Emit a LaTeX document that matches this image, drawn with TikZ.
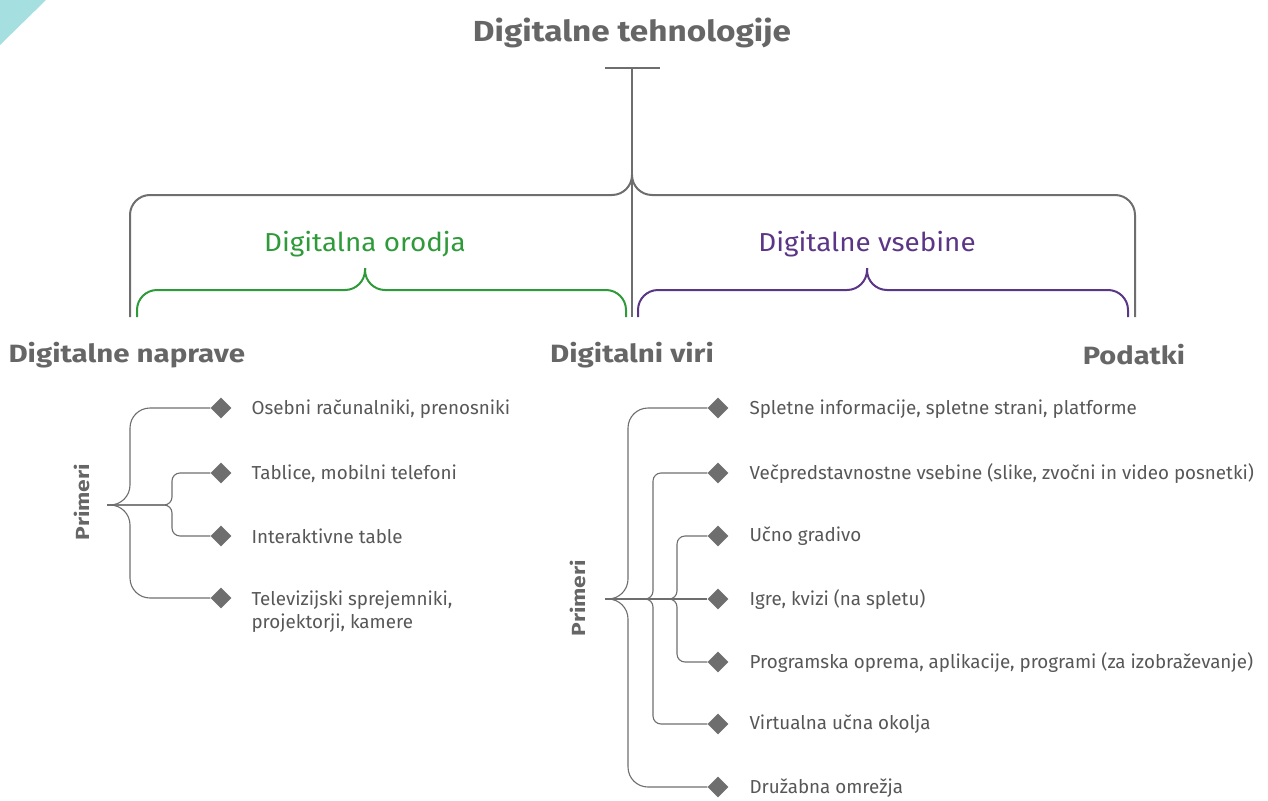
\documentclass[tikz,border=0pt]{standalone}
\usepackage{fontspec}
\usepackage{graphicx}
\setmainfont{Fira Sans}
\usetikzlibrary{shapes.geometric}
\definecolor{lgray}{HTML}{6E6E6E}
\definecolor{txtgray}{HTML}{575757}
\definecolor{hgray}{HTML}{666666}
\definecolor{egreen}{HTML}{2F9A3A}
\definecolor{epurple}{HTML}{5B3586}
\definecolor{eteal}{HTML}{A6DFE0}
\newcommand{\wide}[2]{\scalebox{#1}[1]{#2}}
\tikzset{
  bigbrace/.style={draw=lgray, line width=2pt},
  tree/.style={draw=lgray, line width=1.1pt},
  dia/.style={diamond, fill=lgray, inner sep=0pt, minimum size=21pt},
  item/.style={anchor=west, text=txtgray, font=\fontsize{18.8}{23}\selectfont, align=left},
  head/.style={text=hgray, font=\fontsize{25}{30}\selectfont\bfseries},
  prim/.style={text=hgray, font=\fontsize{19}{22}\selectfont\bfseries, rotate=90}
}
\begin{document}
\begin{tikzpicture}[x=1pt,y=-1pt]
\useasboundingbox (0,0) rectangle (1268,800);
\fill[eteal] (0,0) -- (46,0) -- (0,45) -- cycle;
% title
\node[head, font=\fontsize{29}{34}\selectfont\bfseries] (title) at (632,33) {\wide{1.15}{Digitalne tehnologije}};
\coordinate (tl) at (605,68);
\coordinate (tr) at (660,68);
\coordinate (top) at (632,68);
\coordinate (stemend) at (632,317);
\draw[bigbrace] (tl) -- (tr);
\draw[bigbrace] (top) -- (stemend);
% gray brace
\coordinate (gpeak) at (632,175);
\coordinate (gl) at (130,317);
\coordinate (gr) at (1135,317);
\draw[bigbrace, rounded corners=20pt] (gpeak) -- ++(0,20) -| (gl);
\draw[bigbrace, rounded corners=20pt] (gpeak) -- ++(0,20) -| (gr);
% green brace
\coordinate (opeak) at (365,268);
\coordinate (ol) at (137,317);
\coordinate (or) at (626,317);
\draw[bigbrace, draw=egreen, rounded corners=20pt] (opeak) -- ++(0,22) -| (ol);
\draw[bigbrace, draw=egreen, rounded corners=20pt] (opeak) -- ++(0,22) -| (or);
% purple brace
\coordinate (vpeak) at (867,268);
\coordinate (vl) at (638,317);
\coordinate (vr) at (1128,317);
\draw[bigbrace, draw=epurple, rounded corners=20pt] (vpeak) -- ++(0,22) -| (vl);
\draw[bigbrace, draw=epurple, rounded corners=20pt] (vpeak) -- ++(0,22) -| (vr);
% labels
\node[text=egreen, font=\fontsize{26}{30}\selectfont] (orodja) at (365,244) {\wide{1.07}{Digitalna orodja}};
\node[text=epurple, font=\fontsize{26}{30}\selectfont] (vsebine) at (867,244) {\wide{1.07}{Digitalne vsebine}};
\node[head, anchor=west] (naprave) at (5,355) {\wide{1.18}{Digitalne naprave}};
\node[head] (viri) at (632,355) {\wide{1.18}{Digitalni viri}};
\node[head] (podatki) at (1134,355) {\wide{1.16}{Podatki}};
% left tree
\node[prim] (p1) at (82,502) {\wide{1.2}{Primeri}};
\coordinate (L0) at (107,505);
\node[dia] (l1) at (221,408) {};
\node[dia] (l2) at (221,473) {};
\node[dia] (l3) at (221,536) {};
\node[dia] (l4) at (221,598) {};
\draw[tree, rounded corners=20pt] (L0) -- ++(23,0) |- (l1.west);
\draw[tree, rounded corners=20pt] (L0) -- ++(23,0) |- (l4.west);
\draw[tree, rounded corners=8pt] (L0) -- ++(65,0) |- (l2.west);
\draw[tree, rounded corners=8pt] (L0) -- ++(65,0) |- (l3.west);
\node[item] (t1) at (248,409) {Osebni računalniki, prenosniki};
\node[item] (t2) at (248,474) {Tablice, mobilni telefoni};
\node[item] (t3) at (248,536) {Interaktivne table};
\node[item] (t4) at (248,612) {Televizijski sprejemniki,\\projektorji, kamere};
% right tree
\node[prim] (p2) at (578,598) {\wide{1.2}{Primeri}};
\coordinate (R0) at (605,599);
\node[dia] (r1) at (718,408) {};
\node[dia] (r2) at (718,473) {};
\node[dia] (r3) at (718,536) {};
\node[dia] (r4) at (718,599) {};
\node[dia] (r5) at (718,662) {};
\node[dia] (r6) at (718,724) {};
\node[dia] (r7) at (718,787) {};
\draw[tree, rounded corners=20pt] (R0) -- ++(23,0) |- (r1.west);
\draw[tree, rounded corners=20pt] (R0) -- ++(23,0) |- (r7.west);
\draw[tree, rounded corners=8pt] (R0) -- ++(48,0) |- (r2.west);
\draw[tree, rounded corners=8pt] (R0) -- ++(48,0) |- (r6.west);
\draw[tree, rounded corners=8pt] (R0) -- ++(72,0) |- (r3.west);
\draw[tree, rounded corners=8pt] (R0) -- ++(72,0) |- (r5.west);
\draw[tree] (R0) -- (r4.west);
\node[item] (s1) at (746,409) {Spletne informacije, spletne strani, platforme};
\node[item] (s2) at (746,474) {Večpredstavnostne vsebine (slike, zvočni in video posnetki)};
\node[item] (s3) at (746,536) {Učno gradivo};
\node[item] (s4) at (746,600) {Igre, kvizi (na spletu)};
\node[item] (s5) at (746,663) {Programska oprema, aplikacije, programi (za izobraževanje)};
\node[item] (s6) at (746,724) {Virtualna učna okolja};
\node[item] (s7) at (746,788) {Družabna omrežja};
\end{tikzpicture}
\end{document}
